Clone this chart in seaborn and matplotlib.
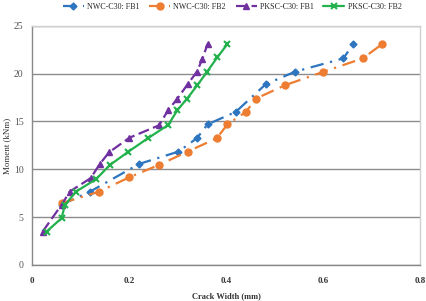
import matplotlib
matplotlib.use("Agg")
import matplotlib.pyplot as plt
import seaborn as sns
import numpy as np

# data
nwc_fb1_x = [0.061, 0.120, 0.221, 0.302, 0.340, 0.362, 0.420, 0.482, 0.542, 0.642, 0.662]
nwc_fb1_y = [6.3, 7.67, 10.56, 11.85, 13.25, 14.7, 16.0, 18.9, 20.2, 21.6, 23.1]

nwc_fb2_x = [0.061, 0.139, 0.201, 0.262, 0.321, 0.381, 0.403, 0.441, 0.462, 0.522, 0.601, 0.682, 0.722]
nwc_fb2_y = [6.45, 7.67, 9.17, 10.46, 11.85, 13.25, 14.7, 16.0, 17.4, 18.8, 20.2, 21.6, 23.1]

pksc_fb1_x = [0.022, 0.061, 0.078, 0.121, 0.140, 0.159, 0.201, 0.262, 0.281, 0.300, 0.321, 0.340, 0.351, 0.362]
pksc_fb1_y = [3.48, 6.28, 7.67, 9.07, 10.56, 11.78, 13.3, 14.6, 16.2, 17.4, 18.9, 20.2, 21.5, 23.1]

pksc_fb2_x = [0.030, 0.061, 0.068, 0.091, 0.132, 0.161, 0.199, 0.240, 0.281, 0.300, 0.320, 0.341, 0.361, 0.382, 0.403]
pksc_fb2_y = [3.48, 4.88, 6.28, 7.67, 8.96, 10.46, 11.85, 13.28, 14.64, 16.2, 17.4, 18.8, 20.2, 21.7, 23.1]

labels = ["NWC-C30: FB1", "NWC-C30: FB2", "PKSC-C30: FB1", "PKSC-C30: FB2"]
x_ticks = [0, 0.2, 0.4, 0.6, 0.8]
x_tick_labels = ["0", "0.2", "0.4", "0.6", "0.8"]
y_ticks = [0, 5, 10, 15, 20, 25]

sns.set_theme(style="white")
plt.rcParams['font.family'] = ['Liberation Serif', 'DejaVu Serif']

fig = plt.figure(figsize=(4.26, 3.01), dpi=100)
ax = fig.add_axes([0.075, 0.12, 0.911, 0.794])

series = [
    (nwc_fb1_x, nwc_fb1_y, '#2e75c0', 'D', (0, (6, 3, 1, 3)), 3.5, 1.0),
    (nwc_fb2_x, nwc_fb2_y, '#ed7d31', 'o', (0, (6, 3, 1, 3)), 5, 1.0),
    (pksc_fb1_x, pksc_fb1_y, '#7030a0', '^', (0, (5, 2)), 5, 1.0),
    (pksc_fb2_x, pksc_fb2_y, '#22b14c', 'x', '-', 5, 1.5),
]
for (xs, ys, col, mk, ls, ms, mew), lab in zip(series, labels):
    sns.lineplot(x=xs, y=ys, ax=ax, color=col, marker=mk, linestyle=ls,
                 markersize=ms, markeredgewidth=mew, markeredgecolor=col,
                 linewidth=1.6, sort=False, label=lab, estimator=None)

ax.set_xlim(0, 0.8)
ax.set_ylim(0, 25)
ax.set_xticks(x_ticks)
ax.set_xticklabels(x_tick_labels, fontsize=6.5, fontweight='bold', color='#333333')
ax.set_yticks(y_ticks)
ax.set_yticklabels([str(v) for v in y_ticks], fontsize=7, color='#555555')
ax.yaxis.grid(True, color='#8c8c8c', linewidth=1.0)
ax.xaxis.grid(False)
ax.tick_params(axis='both', length=2, width=0.8, color='#888888', direction='out')
ax.tick_params(axis='y', pad=4)
ax.tick_params(axis='x', pad=7)
for s in ['left', 'bottom']:
    ax.spines[s].set_color('#888888')
    ax.spines[s].set_linewidth(1.0)
for s in ['top', 'right']:
    ax.spines[s].set_color('#d0d0d0')
    ax.spines[s].set_linewidth(1.0)

ax.set_xlabel("Crack Width (mm)", fontsize=6, fontweight='bold', color='#333333', labelpad=5)
ax.set_ylabel("Moment (kNm)", fontsize=6.5, color='#333333')
ax.yaxis.set_label_coords(-0.053, 0.5)

leg = ax.legend(loc='center', bbox_to_anchor=(0.545, 0.977), bbox_transform=fig.transFigure,
                ncol=4, frameon=False, fontsize=5.8, handlelength=2.6, columnspacing=1.2,
                handletextpad=0.4, borderaxespad=0)

fig.savefig("out.png", dpi=100, facecolor='white')
